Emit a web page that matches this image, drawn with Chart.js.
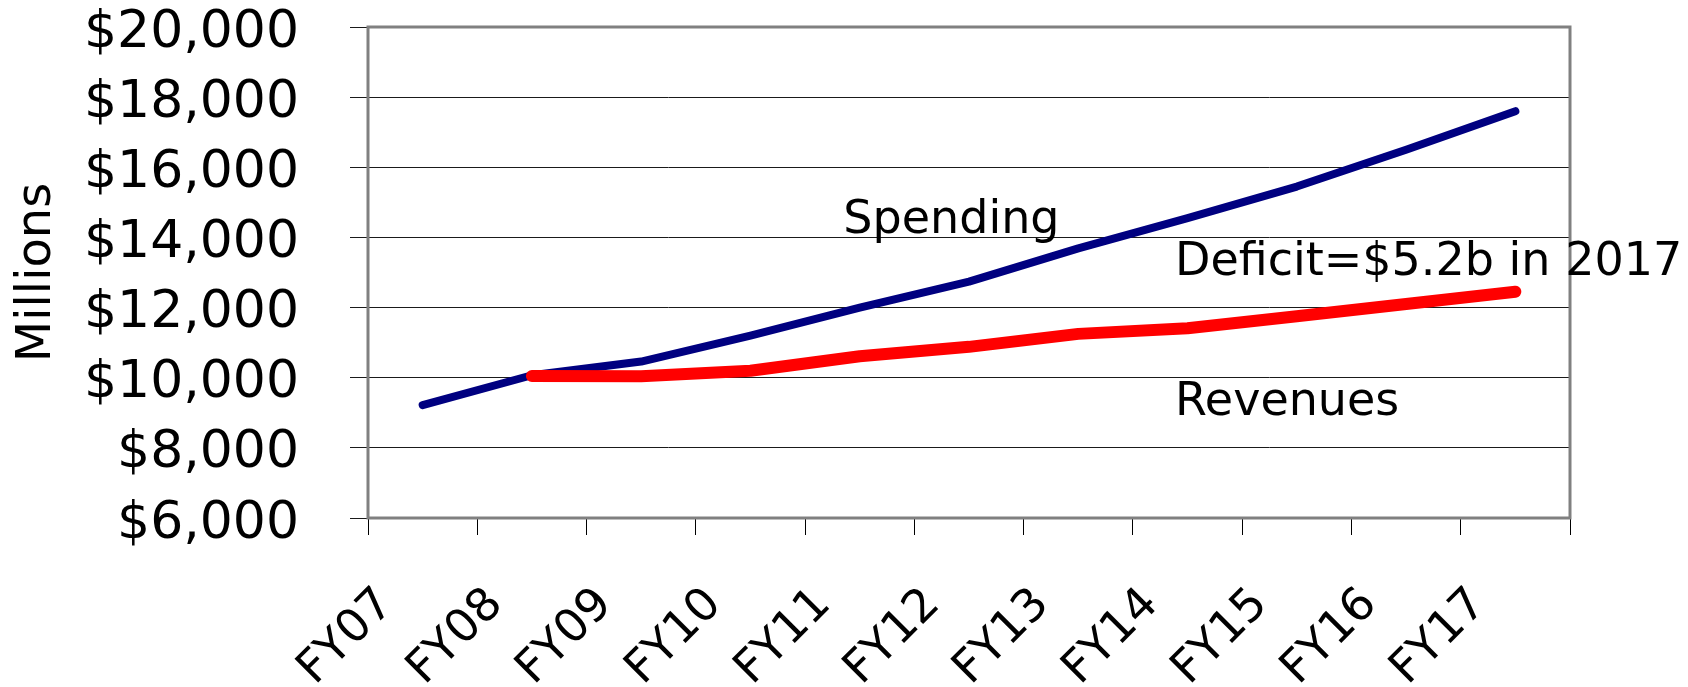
<!DOCTYPE html>
<html lang="en">
<head>
<meta charset="utf-8">
<title>Spending vs Revenues</title>
<script src="https://cdn.jsdelivr.net/npm/chart.js@4.4.1/dist/chart.umd.min.js"></script>
<style>
  html, body { margin: 0; padding: 0; background: #fff; }
  #wrap { width: 1688px; height: 687px; position: relative; }
</style>
</head>
<body>
<div id="wrap"><canvas id="budgetChart"></canvas></div>
<script>
// 年度
const fiscalYears = ['FY07', 'FY08', 'FY09', 'FY10', 'FY11', 'FY12', 'FY13', 'FY14', 'FY15', 'FY16', 'FY17'];

// 支出（百万ドル）
const spending = [9220, 10070, 10460, 11200, 12000, 12740, 13690, 14550, 15450, 16500, 17600];

// 歳入（FY07 はなし）
const revenues = [null, 10050, 10040, 10200, 10610, 10880, 11250, 11410, 11750, 12100, 12450];

// 縦軸の目盛り
const yTicks = [6000, 8000, 10000, 12000, 14000, 16000, 18000, 20000];

// 注記
const noteTexts = ['Spending', 'Deficit=$5.2b in 2017', 'Revenues'];

const FONT = '"DejaVu Sans", Verdana, sans-serif';

// 枠線と注記を描くプラグイン
const frameAndNotes = {
  id: 'frameAndNotes',
  beforeDatasetsDraw(chart) {
    const { ctx, chartArea } = chart;
    ctx.save();
    ctx.strokeStyle = '#808080';
    ctx.lineWidth = 3;
    ctx.strokeRect(chartArea.left, chartArea.top,
      chartArea.right - chartArea.left, chartArea.bottom - chartArea.top);
    ctx.restore();
  },
  afterDraw(chart, args, opts) {
    const { ctx } = chart;
    const x = chart.scales.x;
    const y = chart.scales.y;
    ctx.save();
    ctx.fillStyle = '#000';
    ctx.font = '46px ' + FONT;
    ctx.textAlign = 'left';
    ctx.textBaseline = 'alphabetic';
    opts.anchors.forEach((a, i) => {
      ctx.fillText(noteTexts[i], x.getPixelForValue(a[0]), y.getPixelForValue(a[1]));
    });
    ctx.restore();
  }
};

const ctx = document.getElementById('budgetChart');

new Chart(ctx, {
  type: 'line',
  data: {
    labels: fiscalYears,
    datasets: [{
      label: 'Spending',
      data: spending,
      borderColor: '#000080',
      borderWidth: 8,
      order: 2
    }, {
      label: 'Revenues',
      data: revenues,
      borderColor: '#ff0000',
      borderWidth: 12,
      order: 1
    }]
  },
  options: {
    responsive: true,
    maintainAspectRatio: false,
    animation: false,
    devicePixelRatio: 1,
    layout: {
      padding: { top: 27, right: 118, bottom: 0, left: 0 }
    },
    elements: {
      point: { radius: 0, hoverRadius: 0 },
      line: { tension: 0, borderCapStyle: 'round', borderJoinStyle: 'round', fill: false }
    },
    plugins: {
      legend: { display: false },
      tooltip: { enabled: false },
      frameAndNotes: {
        // [カテゴリ位置, 値]
        anchors: [[3.85, 14127], [6.885, 12929], [6.885, 8937]]
      }
    },
    scales: {
      x: {
        type: 'category',
        offset: true,
        afterFit(scale) {
          scale.height = 169;
          scale.paddingLeft = 0;
          scale.paddingRight = 0;
        },
        border: { display: false },
        grid: {
          offset: true,
          drawOnChartArea: false,
          drawTicks: true,
          tickLength: 17,
          color: '#000',
          lineWidth: 1
        },
        ticks: {
          autoSkip: false,
          minRotation: 45,
          maxRotation: 45,
          padding: 46,
          labelOffset: -36,
          color: '#000',
          font: { family: FONT, size: 46, lineHeight: 1 }
        }
      },
      y: {
        min: 6000,
        max: 20000,
        afterFit(scale) {
          scale.width = 368;
          // ラベル余白で上端が下がらないように
          scale.paddingTop = 0;
          scale.paddingBottom = 0;
        },
        afterBuildTicks(scale) {
          scale.ticks = yTicks.map(v => ({ value: v }));
        },
        border: { display: false },
        grid: {
          color: '#1a1a1a',
          lineWidth: 1,
          drawTicks: true,
          tickLength: 18
        },
        title: {
          display: true,
          text: 'Millions',
          color: '#000',
          padding: { top: 9, bottom: 0 },
          font: { family: FONT, size: 48, lineHeight: 1.2 }
        },
        ticks: {
          padding: 51,
          labelOffset: 6,
          color: '#000',
          font: { family: FONT, size: 52, lineHeight: 1 },
          callback: value => '$' + value.toLocaleString('en-US')
        }
      }
    }
  },
  plugins: [frameAndNotes]
});
</script>
</body>
</html>
